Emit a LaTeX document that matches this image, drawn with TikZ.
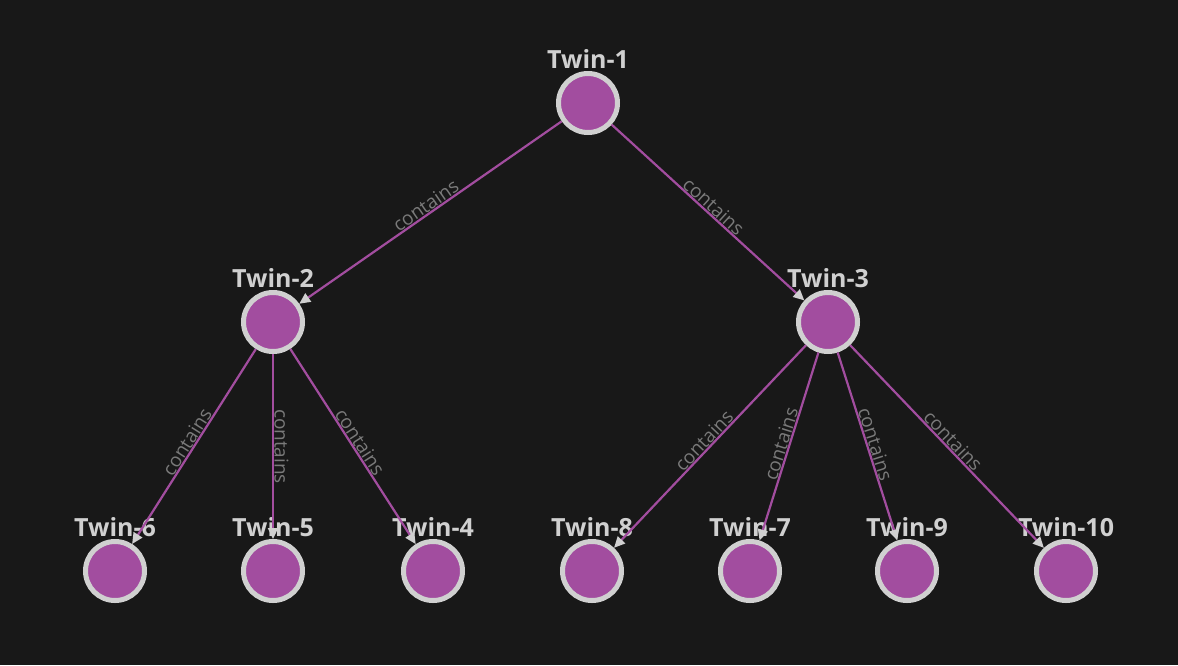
\documentclass[tikz,border=0pt]{standalone}
\usepackage{fontspec}
\setmainfont{Open Sans}
\usetikzlibrary{arrows.meta}
\definecolor{bgdark}{HTML}{181818}
\definecolor{twinfill}{HTML}{A24D9F}
\definecolor{twinring}{HTML}{D0D0D0}
\definecolor{edgelbl}{HTML}{7A7A7A}
\tikzset{
    twin/.style={circle, fill=twinfill, draw=twinring, line width=5pt, minimum size=59pt, inner sep=0pt,
        label={[text=twinring, font=\fontsize{25}{25}\selectfont\bfseries, label distance=-1pt]above:#1}},
    rel/.style={draw=twinfill, line width=2.2pt, -{Triangle[length=11pt,width=10pt,fill=twinring,color=twinring]}},
    rellbl/.style={midway, sloped, above=-3pt, text=edgelbl, font=\fontsize{19}{19}\selectfont}
}
\begin{document}
\begin{tikzpicture}[x=1pt,y=-1pt]
    \fill[bgdark] (0,0) rectangle (1178,665);
    \useasboundingbox (0,0) rectangle (1178,665);
    % tree of twins
    \node[twin=Twin-1] (t1) at (588,103) {};
    \node[twin=Twin-2] (t2) at (273,322) {};
    \node[twin=Twin-3] (t3) at (828,322) {};
    \node[twin=Twin-6] (t6) at (115,571) {};
    \node[twin=Twin-5] (t5) at (273,571) {};
    \node[twin=Twin-4] (t4) at (433,571) {};
    \node[twin=Twin-8] (t8) at (592,571) {};
    \node[twin=Twin-7] (t7) at (750,571) {};
    \node[twin=Twin-9] (t9) at (907,571) {};
    \node[twin=Twin-10] (t10) at (1066,571) {};
    % relationships
    \foreach \a/\b in {t1/t2, t1/t3, t2/t6, t2/t5, t2/t4, t3/t8, t3/t7, t3/t9, t3/t10}
        \draw[rel] (\a) -- (\b) node[rellbl] {contains};
\end{tikzpicture}
\end{document}
